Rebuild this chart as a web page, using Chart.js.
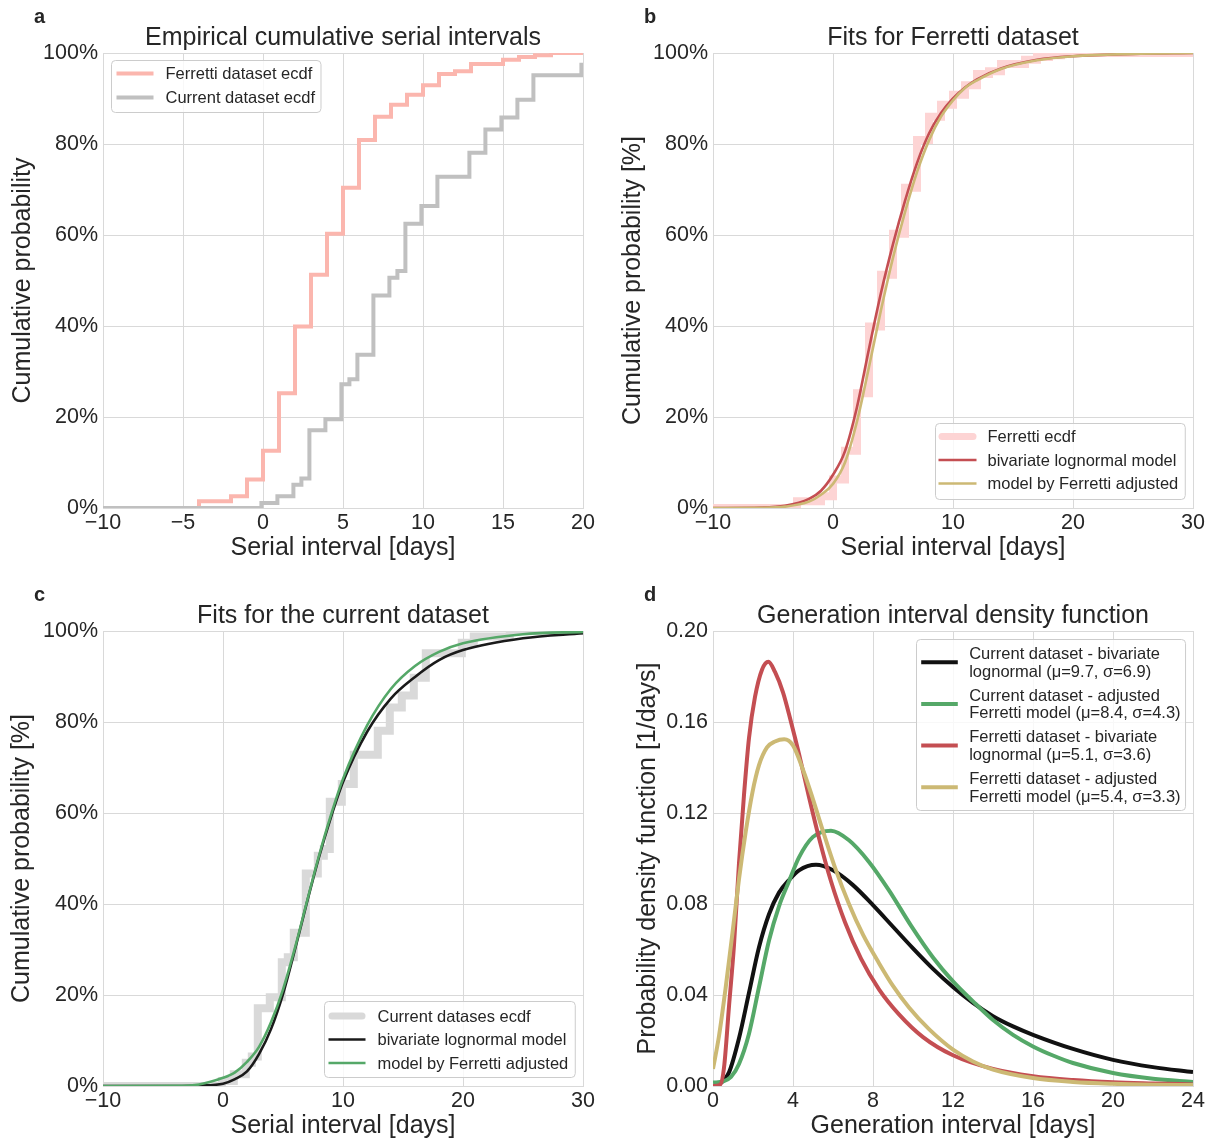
<!DOCTYPE html>
<html>
<head>
<meta charset="utf-8">
<title>Serial and generation intervals</title>
<script src="https://cdn.jsdelivr.net/npm/chart.js@4.4.0/dist/chart.umd.min.js"></script>
<style>
  html, body { margin: 0; padding: 0; background: #ffffff; overflow: hidden; }
  canvas { position: absolute; }
</style>
</head>
<body>
<canvas id="chartA" width="605" height="575" style="left:0px;top:0px"></canvas>
<canvas id="chartB" width="599" height="575" style="left:610px;top:0px"></canvas>
<canvas id="chartC" width="605" height="575" style="left:0px;top:578px"></canvas>
<canvas id="chartD" width="599" height="575" style="left:610px;top:578px"></canvas>
<script>
// empirical cdfs (serial interval in days, cumulative %)
var ferrettiX = [-10, -4, -2, -1, 0, 1, 2, 3, 4, 5, 6, 7, 8, 9, 10, 11, 12, 13, 15, 16, 17, 18, 30];
var ferrettiY = [0, 1.5, 2.6, 6.25, 12.6, 25.2, 39.9, 51.25, 60.3, 70.4, 80.9, 86.0, 88.6, 90.8, 92.9, 95.4, 96.0, 97.6, 98.5, 99.1, 99.5, 100, 100];
// same ecdf as drawn in panel b (steps sit one day later there)
var ferrettiBX = [-10, -3, -1, 0, 1, 2, 3, 4, 5, 6, 7, 8, 9, 10, 11, 12, 13, 14, 16, 17, 18, 19, 30];
var currentX = [-10, -0.1, 0.9, 1.9, 2.4, 2.9, 3.9, 4.9, 5.4, 5.9, 6.9, 7.9, 8.4, 8.9, 9.9, 10.9, 12.9, 13.9, 14.9, 15.9, 16.9, 19.9, 20.9, 23.9, 30];
var currentY = [0, 1.1, 2.6, 5.1, 6.5, 17.1, 19.5, 27.2, 28.3, 33.7, 46.7, 50.6, 52.1, 62.5, 66.4, 72.8, 78.1, 83.2, 85.8, 89.7, 95.1, 97.4, 98.8, 100, 100];

// fitted cdfs, Ferretti dataset (panel b)
var fitFerrX = [-10, -6, -4, -2, -1, 0, 1, 2, 3, 4, 5, 6, 7, 8, 9, 10, 11, 12, 14, 17, 20, 25, 30];
var fitFerrLognY = [0, 0.1, 0.5, 2.0, 3.8, 7.3, 12.5, 22.2, 35.0, 47.3, 58.0, 67.5, 75.8, 82.3, 86.8, 90.0, 92.4, 94.2, 96.6, 98.5, 99.3, 99.8, 100];
var fitFerrAdjY = [0, 0.05, 0.3, 1.4, 2.9, 5.3, 10.0, 19.0, 31.0, 43.5, 55.0, 65.0, 73.8, 80.8, 86.0, 89.6, 92.3, 94.0, 96.5, 98.4, 99.3, 99.8, 100];

// fitted cdfs, current dataset (panel c)
var fitCurX = [-10, -4, -2, 0, 1, 2, 3, 4, 5, 6, 7, 8, 9, 10, 12, 14, 16, 18, 20, 25, 30];
var fitCurLognY = [0, 0, 0.1, 0.5, 1.5, 3.2, 7, 12.5, 20.2, 30, 40.4, 50.3, 59.1, 66.8, 77.8, 85.2, 89.9, 93.6, 95.8, 98.4, 99.5];
var fitCurAdjY = [0, 0.05, 0.35, 1.8, 3.0, 5.3, 8.6, 14.0, 21.2, 30.4, 40.6, 50.6, 59.6, 67.5, 79.2, 87.3, 92.3, 95.4, 97.3, 99.3, 99.8];

// generation interval densities (panel d)
var giCurLognX = [0, 0.3, 0.8, 1.3, 1.8, 2.3, 2.8, 3.3, 3.8, 4.3, 5.15, 6, 7, 8, 9, 10, 11, 12, 13, 14, 15, 16, 18, 20, 22, 24];
var giCurLognY = [0, 0.0008, 0.006, 0.021, 0.041, 0.061, 0.0755, 0.085, 0.0905, 0.0948, 0.0972, 0.0948, 0.0883, 0.0795, 0.0700, 0.0605, 0.0515, 0.0435, 0.0365, 0.0307, 0.0262, 0.0225, 0.0163, 0.0115, 0.0083, 0.0061];
var giCurAdjX = [0, 0.5, 0.9, 1.3, 1.8, 2.3, 2.8, 3.3, 3.8, 4.3, 5.0, 5.9, 6.8, 7.8, 8.8, 9.9, 11, 12, 13, 14, 15, 16, 17, 18, 20, 22, 24];
var giCurAdjY = [0.0015, 0.002, 0.004, 0.0097, 0.023, 0.0435, 0.064, 0.079, 0.090, 0.1005, 0.1095, 0.1122, 0.108, 0.0985, 0.0860, 0.0705, 0.0565, 0.0460, 0.0372, 0.0290, 0.0225, 0.0174, 0.0134, 0.0101, 0.0057, 0.0032, 0.0018];
var giFerrLognX = [0, 0.35, 0.55, 0.8, 1.05, 1.3, 1.55, 1.8, 2.1, 2.45, 2.77, 3.1, 3.5, 3.9, 4.3, 4.8, 5.3, 5.9, 6.6, 7.4, 8.3, 9.3, 10.5, 12, 14, 16, 18, 20, 22, 24];
var giFerrLognY = [0, 0.0005, 0.008, 0.035, 0.062, 0.098, 0.128, 0.153, 0.171, 0.183, 0.1865, 0.182, 0.173, 0.160, 0.146, 0.127, 0.109, 0.090, 0.072, 0.056, 0.0425, 0.0315, 0.0215, 0.0135, 0.0075, 0.0043, 0.0026, 0.0016, 0.0011, 0.0007];
var giFerrAdjX = [0, 0.3, 0.63, 0.97, 1.3, 1.64, 1.97, 2.3, 2.7, 3.1, 3.56, 4.0, 4.5, 5.0, 5.5, 6.1, 6.8, 7.5, 8.3, 9.0, 9.8, 10.8, 12, 13, 14, 16, 18, 20, 22, 24];
var giFerrAdjY = [0.0075, 0.022, 0.043, 0.067, 0.091, 0.112, 0.129, 0.141, 0.1488, 0.1514, 0.1524, 0.1497, 0.139, 0.126, 0.112, 0.096, 0.080, 0.0665, 0.0540, 0.0440, 0.0345, 0.0250, 0.0160, 0.0108, 0.0072, 0.0035, 0.0018, 0.0010, 0.0006, 0.0004];

// tick labels
var serialTicksA = [-10, -5, 0, 5, 10, 15, 20];
var serialTicksBC = [-10, 0, 10, 20, 30];
var percentTicks = [0, 20, 40, 60, 80, 100];
var giTicks = [0, 4, 8, 12, 16, 20, 24];
var densityTicks = [0, 0.04, 0.08, 0.12, 0.16, 0.20];

var FONT = '"Liberation Sans", Arial, Helvetica, sans-serif';
var TEXT = '#262626';
var GRID = '#d9d9d9';
Chart.defaults.font.family = FONT;
Chart.defaults.color = TEXT;

function pts(xs, ys) {
	return xs.map(function(x, i) { return {x: x, y: ys[i]}; });
}
function fmtSerial(v) { return v < 0 ? '\u2212' + (-v) : '' + v; }
function fmtPercent(v) { return v + '%'; }
function fmtDensity(v) { return v.toFixed(2); }

// panel letter + matplotlib-like legend box
var panelDecor = {
	id: 'panelDecor',
	afterDraw: function(chart, args, opts) {
		var ctx = chart.ctx, ca = chart.chartArea;
		ctx.save();
		ctx.fillStyle = TEXT;
		ctx.font = 'bold 20px ' + FONT;
		ctx.textBaseline = 'alphabetic';
		ctx.fillText(opts.letter, 34, 23);

		var lg = opts.legend;
		ctx.font = '16.5px ' + FONT;
		var tw = 0;
		lg.items.forEach(function(it) {
			chart.data.datasets[it.ds].label.split('\n').forEach(function(t) {
				tw = Math.max(tw, ctx.measureText(t).width);
			});
		});
		var w = lg.textX + tw + lg.padR, h = lg.height;
		var left = lg.corner[1] === 'l' ? ca.left + lg.dx : ca.right - lg.dx - w;
		var top = lg.corner[0] === 't' ? ca.top + lg.dy : ca.bottom - lg.dy - h;
		left = Math.round(left) + 0.5; top = Math.round(top) + 0.5;
		ctx.beginPath();
		ctx.roundRect(left, top, w, h, 4);
		ctx.fillStyle = 'rgba(255,255,255,0.8)';
		ctx.fill();
		ctx.strokeStyle = '#cccccc';
		ctx.lineWidth = 1;
		ctx.stroke();
		lg.items.forEach(function(it, i) {
			var ds = chart.data.datasets[it.ds];
			var y = top + lg.firstRow + i * lg.rowH;
			ctx.beginPath();
			ctx.moveTo(left + lg.lineX0 + (it.cap === 'round' ? it.width / 2 : 0), y);
			ctx.lineTo(left + lg.lineX1 - (it.cap === 'round' ? it.width / 2 : 0), y);
			ctx.strokeStyle = ds.borderColor;
			ctx.lineWidth = it.width;
			ctx.lineCap = it.cap || 'butt';
			ctx.stroke();
			ctx.fillStyle = TEXT;
			ctx.textBaseline = 'middle';
			ctx.textAlign = 'left';
			var lines = ds.label.split('\n');
			lines.forEach(function(t, j) {
				ctx.fillText(t, left + lg.textX, y + 1 + (j - (lines.length - 1) / 2) * lg.lineGap);
			});
		});
		ctx.restore();
	}
};

function makeChart(id, p) {
	var ctx = document.getElementById(id).getContext('2d');
	return new Chart(ctx, {
		type: 'line',
		data: { datasets: p.datasets },
		plugins: [panelDecor],
		options: {
			responsive: false,
			animation: false,
			events: [],
			layout: { padding: { left: 0, right: p.padRight, top: 0, bottom: 0 } },
			elements: { point: { radius: 0 } },
			plugins: {
				legend: { display: false },
				tooltip: { enabled: false },
				title: {
					display: true,
					text: p.title,
					fullSize: false,
					color: TEXT,
					font: { size: 25, weight: 'normal' },
					padding: { top: 23, bottom: 0 }
				},
				panelDecor: { letter: p.letter, legend: p.legend }
			},
			scales: {
				x: {
					type: 'linear',
					min: p.xMin, max: p.xMax,
					afterBuildTicks: function(s) { s.ticks = p.xTicks.map(function(v) { return {value: v}; }); },
					afterFit: function(s) { s.height = 67; },
					grid: { color: GRID, lineWidth: 1, drawTicks: false },
					border: { color: GRID },
					ticks: { color: TEXT, font: { size: 21.5 }, padding: 2, maxRotation: 0, autoSkip: false, callback: p.xFmt },
					title: { display: true, text: p.xTitle, color: TEXT, font: { size: 25 }, padding: { top: 0, bottom: 12 } }
				},
				y: {
					type: 'linear',
					min: p.yMin, max: p.yMax,
					afterBuildTicks: function(s) { s.ticks = p.yTicks.map(function(v) { return {value: v}; }); },
					afterFit: function(s) { s.width = 103; },
					grid: { color: GRID, lineWidth: 1, drawTicks: false },
					border: { color: GRID },
					ticks: { color: TEXT, font: { size: 21.5 }, padding: 5, autoSkip: false, callback: p.yFmt },
					title: { display: true, text: p.yTitle, color: TEXT, font: { size: 25 }, padding: { top: p.yTitlePad, bottom: 0 } }
				}
			}
		}
	});
}

window.onload = function() {
	// a
	makeChart('chartA', {
		letter: 'a', title: 'Empirical cumulative serial intervals', padRight: 22,
		xMin: -10, xMax: 20, xTicks: serialTicksA, xFmt: fmtSerial, xTitle: 'Serial interval [days]',
		yMin: 0, yMax: 100, yTicks: percentTicks, yFmt: fmtPercent, yTitle: 'Cumulative probability', yTitlePad: 8,
		datasets: [
			{ label: 'Current dataset ecdf', data: pts(currentX, currentY), borderColor: '#c0c0c0', borderWidth: 4, stepped: true },
			{ label: 'Ferretti dataset ecdf', data: pts(ferrettiX, ferrettiY), borderColor: '#fbb6ae', borderWidth: 4, stepped: true }
		],
		legend: { corner: 'tl', dx: 8, dy: 7, height: 52, firstRow: 13, rowH: 24, lineX0: 5, lineX1: 42, textX: 54, padR: 6, lineGap: 0,
			items: [ { ds: 1, width: 4 }, { ds: 0, width: 4 } ] }
	});

	// b
	makeChart('chartB', {
		letter: 'b', title: 'Fits for Ferretti dataset', padRight: 16,
		xMin: -10, xMax: 30, xTicks: serialTicksBC, xFmt: fmtSerial, xTitle: 'Serial interval [days]',
		yMin: 0, yMax: 100, yTicks: percentTicks, yFmt: fmtPercent, yTitle: 'Cumulative probability [%]', yTitlePad: 8,
		datasets: [
			{ label: 'model by Ferretti adjusted', data: pts(fitFerrX, fitFerrAdjY), borderColor: '#ccb974', borderWidth: 2.6, cubicInterpolationMode: 'monotone' },
			{ label: 'bivariate lognormal model', data: pts(fitFerrX, fitFerrLognY), borderColor: '#c44e52', borderWidth: 2.6, cubicInterpolationMode: 'monotone' },
			{ label: 'Ferretti ecdf', data: pts(ferrettiBX, ferrettiY), borderColor: '#fdd4d4', borderWidth: 8, stepped: true }
		],
		legend: { corner: 'br', dx: 8, dy: 9, height: 76, firstRow: 13, rowH: 23.5, lineX0: 3, lineX1: 41, textX: 52, padR: 7, lineGap: 0,
			items: [ { ds: 2, width: 7, cap: 'round' }, { ds: 1, width: 2.6 }, { ds: 0, width: 2.6 } ] }
	});

	// c
	makeChart('chartC', {
		letter: 'c', title: 'Fits for the current dataset', padRight: 22,
		xMin: -10, xMax: 30, xTicks: serialTicksBC, xFmt: fmtSerial, xTitle: 'Serial interval [days]',
		yMin: 0, yMax: 100, yTicks: percentTicks, yFmt: fmtPercent, yTitle: 'Cumulative probability [%]', yTitlePad: 7,
		datasets: [
			{ label: 'model by Ferretti adjusted', data: pts(fitCurX, fitCurAdjY), borderColor: '#55a868', borderWidth: 2.6, cubicInterpolationMode: 'monotone' },
			{ label: 'bivariate lognormal model', data: pts(fitCurX, fitCurLognY), borderColor: '#1a1a1a', borderWidth: 2.6, cubicInterpolationMode: 'monotone' },
			{ label: 'Current datases ecdf', data: pts(currentX, currentY), borderColor: '#d9d9d9', borderWidth: 8, stepped: true }
		],
		legend: { corner: 'br', dx: 8, dy: 9, height: 76, firstRow: 14.5, rowH: 23.5, lineX0: 4, lineX1: 41, textX: 53, padR: 7, lineGap: 0,
			items: [ { ds: 2, width: 7, cap: 'round' }, { ds: 1, width: 2.6 }, { ds: 0, width: 2.6 } ] }
	});

	// d
	makeChart('chartD', {
		letter: 'd', title: 'Generation interval density function', padRight: 16,
		xMin: 0, xMax: 24, xTicks: giTicks, xFmt: function(v) { return '' + v; }, xTitle: 'Generation interval [days]',
		yMin: 0, yMax: 0.2, yTicks: densityTicks, yFmt: fmtDensity, yTitle: 'Probability density function [1/days]', yTitlePad: 23,
		datasets: [
			{ label: 'Ferretti dataset - adjusted\nFerretti model (\u03bc=5.4, \u03c3=3.3)', data: pts(giFerrAdjX, giFerrAdjY), borderColor: '#ccb974', borderWidth: 4, cubicInterpolationMode: 'monotone' },
			{ label: 'Ferretti dataset - bivariate\nlognormal (\u03bc=5.1, \u03c3=3.6)', data: pts(giFerrLognX, giFerrLognY), borderColor: '#c44e52', borderWidth: 4, cubicInterpolationMode: 'monotone' },
			{ label: 'Current dataset - adjusted\nFerretti model (\u03bc=8.4, \u03c3=4.3)', data: pts(giCurAdjX, giCurAdjY), borderColor: '#55a868', borderWidth: 4, cubicInterpolationMode: 'monotone' },
			{ label: 'Current dataset - bivariate\nlognormal (\u03bc=9.7, \u03c3=6.9)', data: pts(giCurLognX, giCurLognY), borderColor: '#111111', borderWidth: 4, cubicInterpolationMode: 'monotone' }
		],
		legend: { corner: 'tr', dx: 8, dy: 8, height: 171, firstRow: 22.7, rowH: 41.7, lineX0: 4.7, lineX1: 41.3, textX: 52.7, padR: 5, lineGap: 17.7,
			items: [ { ds: 3, width: 4 }, { ds: 2, width: 4 }, { ds: 1, width: 4 }, { ds: 0, width: 4 } ] }
	});
};
</script>
</body>
</html>
